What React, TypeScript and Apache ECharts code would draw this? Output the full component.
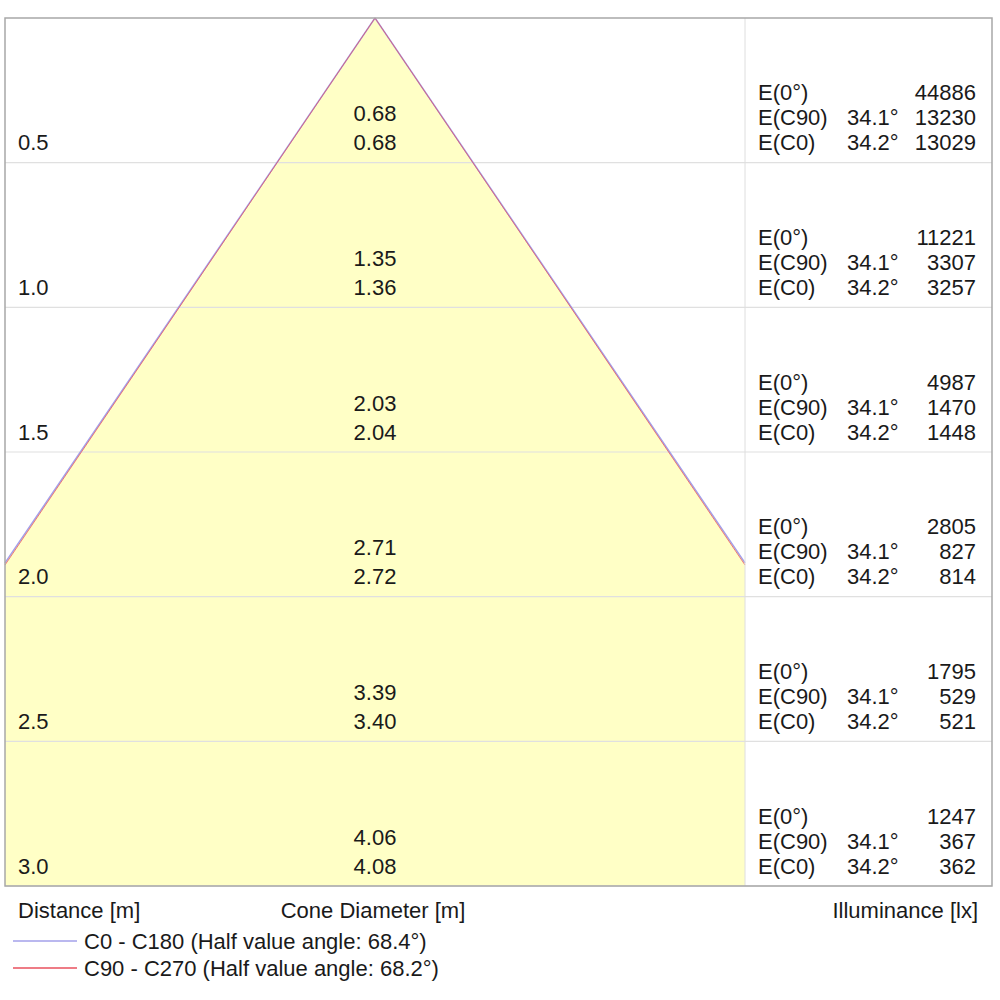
import { useEffect, useRef } from "react";
import * as echarts from "echarts";

// distances down the cone, in metres
const distances = [0.5, 1.0, 1.5, 2.0, 2.5, 3.0];
// cone diameters per distance (C90 plane above, C0 plane below)
const diameterC90 = ["0.68", "1.35", "2.03", "2.71", "3.39", "4.06"];
const diameterC0 = ["0.68", "1.36", "2.04", "2.72", "3.40", "4.08"];
// illuminance in lx
const illumCenter = [44886, 11221, 4987, 2805, 1795, 1247];
const illumC90 = [13230, 3307, 1470, 827, 529, 367];
const illumC0 = [13029, 3257, 1448, 814, 521, 362];
// half value angles (full cone angle) per plane
const halfValueC0 = 68.4;
const halfValueC90 = 68.2;

const X_HALF = 1.28; // half width of the cone drawing, in metres
const PANEL = 247; // width of the illuminance column, px
const FONT = "Liberation Sans, Arial, sans-serif";
const TEXT = "#1a1a1a";
const FILL = "#FFFFC6";
const PURPLE = "#a3a0ea";
const RED = "#e8505e";

const tanHalf = (full: number) => Math.tan(((full / 2) * Math.PI) / 180);

const conePoints = (full: number) => {
  const edge = X_HALF / tanHalf(full);
  return [
    [-X_HALF, edge],
    [0, 0],
    [X_HALF, edge],
  ];
};

const txt = (x: number, y: number, text: string, align = "left") => ({
  type: "text",
  x,
  y,
  style: {
    text,
    fill: TEXT,
    fontSize: 22,
    fontFamily: FONT,
    align,
    verticalAlign: "middle",
    textAlign: align,
    textVerticalAlign: "middle",
  },
});

export default function App() {
  const ref = useRef<HTMLDivElement>(null);

  useEffect(() => {
    if (!ref.current) return;
    const chart = echarts.init(ref.current, undefined, { renderer: "svg" });

    const wide = Math.max(halfValueC0, halfValueC90);

    chart.setOption({
      animation: false,
      grid: { left: 5, top: 18, width: 740, height: 868 },
      xAxis: {
        type: "value",
        min: -X_HALF,
        max: X_HALF,
        show: false,
      },
      yAxis: {
        type: "value",
        min: 0,
        max: 3,
        inverse: true,
        show: false,
      },
      legend: {
        orient: "vertical",
        left: 8,
        top: 925,
        icon: "rect",
        itemWidth: 64,
        itemHeight: 1.5,
        itemGap: 5,
        selectedMode: false,
        textStyle: { fontSize: 22, fontFamily: FONT, color: TEXT, padding: [0, 0, 0, 2] },
        data: [
          `C0 - C180 (Half value angle: ${halfValueC0}°)`,
          `C90 - C270 (Half value angle: ${halfValueC90}°)`,
        ],
      },
      graphic: [
        {
          type: "rect",
          shape: { x: 5, y: 18, width: 987, height: 868 },
          style: { fill: "none", stroke: "#a8a8a8", lineWidth: 1.5 },
          z: 10,
        },
        {
          type: "line",
          shape: { x1: 745, y1: 18, x2: 745, y2: 886 },
          style: { stroke: "#dedede", lineWidth: 1 },
          z: 9,
        },
        txt(18, 910, "Distance [m]"),
        txt(373, 910, "Cone Diameter [m]", "center"),
        txt(978, 910, "Illuminance [lx]", "right"),
      ],
      series: [
        {
          type: "custom",
          z: 1,
          silent: true,
          data: [[0, 0]],
          renderItem: (params: any, api: any) => {
            const cs = params.coordSys;
            const pts = conePoints(wide).map((p) => api.coord(p));
            const bottomL = api.coord([-X_HALF, 3]);
            const bottomR = api.coord([X_HALF, 3]);
            return {
              type: "polygon",
              shape: {
                points: [pts[0], pts[1], pts[2], [bottomR[0], cs.y + cs.height], [bottomL[0], cs.y + cs.height]],
              },
              style: { fill: FILL },
            };
          },
        },
        {
          type: "custom",
          z: 2,
          silent: true,
          data: distances.map((d, i) => [0, d, i]),
          encode: { x: 0, y: 1 },
          renderItem: (params: any, api: any) => {
            const i = api.value(2);
            const cs = params.coordSys;
            const [cx, y] = api.coord([0, distances[i]]);
            const left = cs.x;
            const right = cs.x + cs.width;
            return {
              type: "group",
              children: [
                {
                  type: "line",
                  shape: { x1: left, y1: y, x2: right + PANEL, y2: y },
                  style: { stroke: "#e0e0e0", lineWidth: 1.2 },
                },
                txt(left + 13, y - 20, distances[i].toFixed(1)),
                txt(cx, y - 49, diameterC90[i], "center"),
                txt(cx, y - 20, diameterC0[i], "center"),
                txt(right + 13, y - 70, "E(0°)"),
                txt(right + 13, y - 45, "E(C90)"),
                txt(right + 13, y - 20, "E(C0)"),
                txt(right + 102, y - 45, `${(halfValueC90 / 2).toFixed(1)}°`),
                txt(right + 102, y - 20, `${(halfValueC0 / 2).toFixed(1)}°`),
                txt(right + 231, y - 70, String(illumCenter[i]), "right"),
                txt(right + 231, y - 45, String(illumC90[i]), "right"),
                txt(right + 231, y - 20, String(illumC0[i]), "right"),
              ],
            };
          },
        },
        {
          name: `C0 - C180 (Half value angle: ${halfValueC0}°)`,
          type: "line",
          z: 3,
          silent: true,
          showSymbol: false,
          data: conePoints(halfValueC0),
          lineStyle: { color: PURPLE, width: 1.5 },
          itemStyle: { color: PURPLE },
        },
        {
          name: `C90 - C270 (Half value angle: ${halfValueC90}°)`,
          type: "line",
          z: 4,
          silent: true,
          showSymbol: false,
          data: conePoints(halfValueC90),
          lineStyle: { color: RED, width: 1, opacity: 0.75 },
          itemStyle: { color: RED },
        },
      ],
    });

    return () => chart.dispose();
  }, []);

  return (
    <div
      ref={ref}
      style={{ position: "absolute", left: 0, top: 0, width: 1000, height: 1000, background: "#fff" }}
    />
  );
}
